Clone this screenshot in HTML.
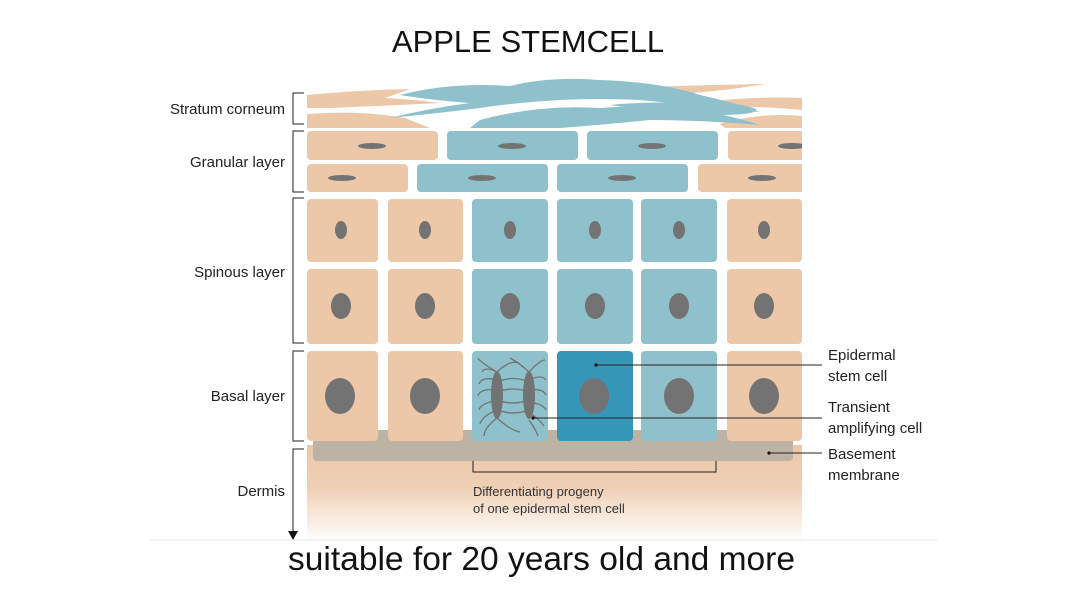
<!DOCTYPE html>
<html><head><meta charset="utf-8"><style>
html,body{margin:0;padding:0;background:#fff;}
svg{display:block;}
text{font-family:"Liberation Sans",sans-serif;}
</style></head><body>
<svg width="1083" height="609" viewBox="0 0 1083 609" xmlns="http://www.w3.org/2000/svg">
<defs>
<linearGradient id="derm" x1="0" y1="0" x2="0" y2="1">
<stop offset="0" stop-color="#ecc7a8"/><stop offset="0.45" stop-color="#efd0b6"/><stop offset="1" stop-color="#ffffff"/>
</linearGradient>
<clipPath id="cl"><rect x="300" y="70" width="502" height="480"/></clipPath>
</defs>
<text x="528" y="52" font-size="31" text-anchor="middle" fill="#111">APPLE STEMCELL</text>

<g clip-path="url(#cl)">
<!-- stratum corneum -->
<g fill="#ecc7a8">
<path d="M307 95 Q360 90 410 89 L385 98 Q420 100 440 103 Q380 106 330 108 L307 108Z"/>
<path d="M615 88 Q690 85 765 84 Q720 92 650 96Z"/>
<path d="M695 103 Q750 96 802 98 L802 110 Q760 106 705 106Z"/>
<path d="M307 114 Q360 110 405 118 Q420 124 430 128 L307 128Z"/>
<path d="M720 124 Q760 112 802 116 L802 128 L725 128Z"/>
</g>
<g fill="#8fc1cc">
<path d="M400 95 Q450 82 510 86 Q550 76 600 80 Q660 82 700 95 Q740 104 760 112 Q700 106 640 100 Q600 98 560 100 Q520 102 480 108 Q440 113 390 118 Q430 108 470 103 Q430 100 400 95Z"/>
<path d="M480 120 Q540 104 600 108 Q650 104 700 110 Q740 118 760 125 Q700 120 650 120 Q600 125 560 128 L470 128Z"/>
<path d="M610 105 Q660 100 740 105 Q770 110 745 114 Q700 117 660 112Z"/>
</g>

<!-- granular -->
<g fill="#ecc7a8">
<rect x="307" y="131" width="131" height="29" rx="4"/>
<rect x="728" y="131" width="80" height="29" rx="4"/>
<rect x="307" y="164" width="101" height="28" rx="4"/>
<rect x="698" y="164" width="110" height="28" rx="4"/>
</g>
<g fill="#8fc1cc">
<rect x="447" y="131" width="131" height="29" rx="4"/>
<rect x="587" y="131" width="131" height="29" rx="4"/>
<rect x="417" y="164" width="131" height="28" rx="4"/>
<rect x="557" y="164" width="131" height="28" rx="4"/>
</g>
<g fill="#737373">
<ellipse cx="372" cy="146" rx="14" ry="3"/><ellipse cx="512" cy="146" rx="14" ry="3"/>
<ellipse cx="652" cy="146" rx="14" ry="3"/><ellipse cx="792" cy="146" rx="14" ry="3"/>
<ellipse cx="342" cy="178" rx="14" ry="3"/><ellipse cx="482" cy="178" rx="14" ry="3"/>
<ellipse cx="622" cy="178" rx="14" ry="3"/><ellipse cx="762" cy="178" rx="14" ry="3"/>
</g>
</g>

<!-- dermis & membrane -->
<rect x="307" y="445" width="495" height="97" fill="url(#derm)"/>
<rect x="313" y="430" width="480" height="31" rx="4" fill="#bdb3a5"/>

<!-- spinous & basal -->
<g>
<rect x="307" y="199" width="71" height="63" rx="4" fill="#ecc7a8"/>
<rect x="388" y="199" width="75" height="63" rx="4" fill="#ecc7a8"/>
<rect x="472" y="199" width="76" height="63" rx="4" fill="#8fc1cc"/>
<rect x="557" y="199" width="76" height="63" rx="4" fill="#8fc1cc"/>
<rect x="641" y="199" width="76" height="63" rx="4" fill="#8fc1cc"/>
<rect x="727" y="199" width="75" height="63" rx="4" fill="#ecc7a8"/>
<rect x="307" y="269" width="71" height="75" rx="4" fill="#ecc7a8"/>
<rect x="388" y="269" width="75" height="75" rx="4" fill="#ecc7a8"/>
<rect x="472" y="269" width="76" height="75" rx="4" fill="#8fc1cc"/>
<rect x="557" y="269" width="76" height="75" rx="4" fill="#8fc1cc"/>
<rect x="641" y="269" width="76" height="75" rx="4" fill="#8fc1cc"/>
<rect x="727" y="269" width="75" height="75" rx="4" fill="#ecc7a8"/>
<rect x="307" y="351" width="71" height="90" rx="4" fill="#ecc7a8"/>
<rect x="388" y="351" width="75" height="90" rx="4" fill="#ecc7a8"/>
<rect x="472" y="351" width="76" height="90" rx="4" fill="#8fc1cc"/>
<rect x="557" y="351" width="76" height="90" rx="4" fill="#3596b8"/>
<rect x="641" y="351" width="76" height="90" rx="4" fill="#8fc1cc"/>
<rect x="727" y="351" width="75" height="90" rx="4" fill="#ecc7a8"/>
</g>
<g fill="#737373">
<ellipse cx="341" cy="230" rx="6" ry="9"/><ellipse cx="425" cy="230" rx="6" ry="9"/>
<ellipse cx="510" cy="230" rx="6" ry="9"/><ellipse cx="595" cy="230" rx="6" ry="9"/>
<ellipse cx="679" cy="230" rx="6" ry="9"/><ellipse cx="764" cy="230" rx="6" ry="9"/>
<ellipse cx="341" cy="306" rx="10" ry="13"/><ellipse cx="425" cy="306" rx="10" ry="13"/>
<ellipse cx="510" cy="306" rx="10" ry="13"/><ellipse cx="595" cy="306" rx="10" ry="13"/>
<ellipse cx="679" cy="306" rx="10" ry="13"/><ellipse cx="764" cy="306" rx="10" ry="13"/>
<ellipse cx="340" cy="396" rx="15" ry="18"/><ellipse cx="425" cy="396" rx="15" ry="18"/>
<ellipse cx="594" cy="396" rx="15" ry="18"/><ellipse cx="679" cy="396" rx="15" ry="18"/>
<ellipse cx="764" cy="396" rx="15" ry="18"/>
<ellipse cx="497" cy="395" rx="6" ry="24"/><ellipse cx="529" cy="395" rx="6" ry="24"/>
</g>
<g fill="none" stroke="#737373" stroke-width="1.3">
<path d="M497 372 Q480 362 478 358 M497 372 Q485 366 482 372 M497 380 Q482 376 479 384 M497 390 Q480 388 478 396 M497 400 Q480 404 479 410 M497 410 Q482 416 480 424 M497 418 Q484 428 484 436"/>
<path d="M497 372 Q512 358 520 364 M497 382 Q513 375 529 382 M497 392 Q513 386 529 392 M497 400 Q513 406 529 400 M497 410 Q513 416 529 410 M497 418 Q510 430 520 432"/>
<path d="M529 372 Q540 360 545 360 M529 380 Q542 374 546 380 M529 390 Q543 388 546 395 M529 402 Q543 404 546 410 M529 412 Q540 420 544 426 M529 420 Q536 430 538 436 M529 372 Q518 362 510 358"/>
</g>

<!-- brackets -->
<g fill="none" stroke="#222" stroke-width="1">
<path d="M304 93 H293 V124 H304"/>
<path d="M304 131 H293 V192 H304"/>
<path d="M304 198 H293 V343 H304"/>
<path d="M304 351 H293 V441 H304"/>
<path d="M304 449 H293 V532"/>
<path d="M473 461 V472 H716 V461"/>
<line x1="596" y1="365" x2="822" y2="365"/>
<line x1="533" y1="418" x2="822" y2="418"/>
<line x1="769" y1="453" x2="822" y2="453"/>
</g>
<polygon points="288,531 298,531 293,540" fill="#111"/>
<g fill="#111"><circle cx="596" cy="365" r="1.6"/><circle cx="533" cy="418" r="1.6"/><circle cx="769" cy="453" r="1.6"/></g>
<line x1="150" y1="540" x2="937" y2="540" stroke="#e4e4e4" stroke-width="1"/>

<g font-size="15" fill="#222" text-anchor="end">
<text x="285" y="114">Stratum corneum</text>
<text x="285" y="167">Granular layer</text>
<text x="285" y="277">Spinous layer</text>
<text x="285" y="401">Basal layer</text>
<text x="285" y="496">Dermis</text>
</g>
<g font-size="15" fill="#222">
<text x="828" y="360">Epidermal</text>
<text x="828" y="381">stem cell</text>
<text x="828" y="412">Transient</text>
<text x="828" y="433">amplifying cell</text>
<text x="828" y="459">Basement</text>
<text x="828" y="480">membrane</text>
</g>
<g font-size="13" fill="#333">
<text x="473" y="496">Differentiating progeny</text>
<text x="473" y="513">of one epidermal stem cell</text>
</g>
<text x="288" y="570" font-size="33.6" textLength="507" lengthAdjust="spacingAndGlyphs" fill="#111">suitable for 20 years old and more</text>
</svg>
</body></html>
